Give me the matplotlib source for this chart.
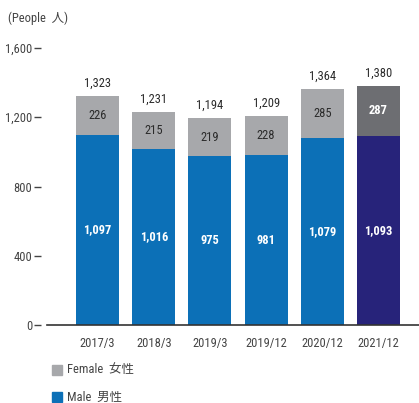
import matplotlib
matplotlib.use("Agg")
import matplotlib.pyplot as plt
from matplotlib.patches import Rectangle
from matplotlib import font_manager

names = {f.name for f in font_manager.fontManager.ttflist}
fam = []
for n in ['Liberation Sans Narrow', 'DejaVu Sans Condensed', 'Roboto Condensed', 'Open Sans Condensed']:
    if n in names:
        fam.append(n)
        break
fam += ['DejaVu Sans', 'Noto Sans CJK JP']
plt.rcParams['font.family'] = fam

categories = ["2017/3", "2018/3", "2019/3", "2019/12", "2020/12", "2021/12"]
male = [1097, 1016, 975, 981, 1079, 1093]
female = [226, 215, 219, 228, 285, 287]
totals = [1323, 1231, 1194, 1209, 1364, 1380]
yticks = [0, 400, 800, 1200, 1600]
ytick_labels = ["0", "400", "800", "1,200", "1,600"]

male_colors = ["#0C70B7"] * 5 + ["#27237A"]
female_colors = ["#A7A8AB"] * 5 + ["#6D6E72"]
female_text = ["#2b2b2b"] * 5 + ["white"]

W, H = 419, 403
fig = plt.figure(figsize=(W / 100, H / 100), dpi=100)
ax = fig.add_axes([47 / W, (H - 325) / H, (W - 47) / W, 277 / H])

x = list(range(len(categories)))
ax.bar(x, male, width=0.765, color=male_colors, zorder=2)
ax.bar(x, female, bottom=male, width=0.765, color=female_colors, zorder=2)

fs = 9
for i in x:
    ax.text(i, male[i] / 2, f"{male[i]:,}", ha='center', va='center', color='white',
            fontsize=fs, fontweight='bold')
    ax.text(i, male[i] + female[i] / 2, f"{female[i]:,}", ha='center', va='center',
            color=female_text[i], fontsize=fs, fontweight='bold' if i == 5 else 'normal')
    ax.text(i, totals[i] + 35, f"{totals[i]:,}", ha='center', va='bottom', color='#2b2b2b',
            fontsize=fs)

ax.set_xlim(-0.9, 5.72)
ax.set_ylim(0, 1600)
for s in ['top', 'right', 'left']:
    ax.spines[s].set_visible(False)
ax.spines['bottom'].set_color('#333333')
ax.spines['bottom'].set_linewidth(1.2)
ax.spines['left'].set_position(('outward', 4))

ax.set_yticks(yticks)
ax.set_yticklabels(ytick_labels)
ax.tick_params(axis='y', length=5.2, width=1.0, color='#444444', pad=1.5,
               labelsize=fs, labelcolor='#444444')
ax.set_xticks(x)
ax.set_xticklabels(categories)
ax.tick_params(axis='x', length=0, pad=9, labelsize=fs, labelcolor='#444444')

fig.text(8 / W, 1 - 18 / H, "(People  人)", ha='left', va='center', fontsize=fs,
         color='#444444')

# legend
for (yy, col, lab) in [(370, "#A7A8AB", "Female  女性"), (397, "#0C70B7", "Male  男性")]:
    fig.patches.append(Rectangle((52 / W, 1 - (yy + 5) / H), 10 / W, 10 / H,
                                 transform=fig.transFigure, color=col))
    fig.text(67 / W, 1 - yy / H, lab, ha='left', va='center', fontsize=fs,
             color='#444444')

fig.savefig("out.png", dpi=100)
